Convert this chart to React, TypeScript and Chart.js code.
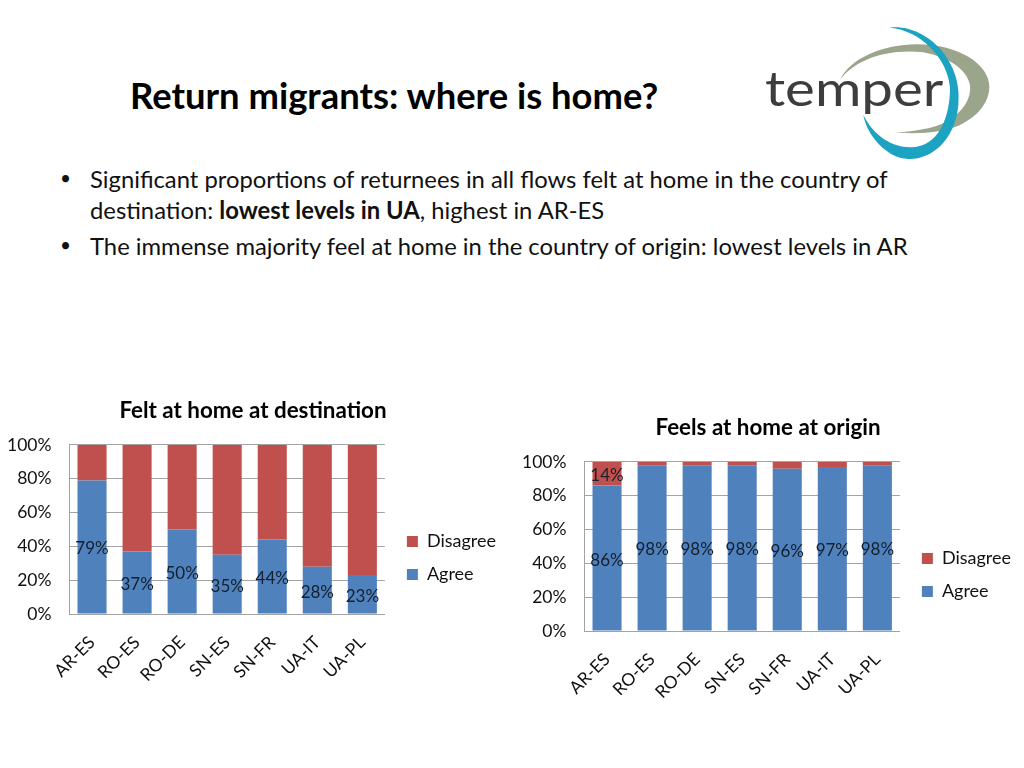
import React, { useEffect, useRef } from "react";
import { Chart, registerables } from "chart.js";

Chart.register(...registerables);

const categories = ["AR-ES", "RO-ES", "RO-DE", "SN-ES", "SN-FR", "UA-IT", "UA-PL"];
const yTicks = [0, 20, 40, 60, 80, 100];

const destinationAgree = [79, 37, 50, 35, 44, 28, 23];
const destinationDisagree = [21, 63, 50, 65, 56, 72, 77];
const destinationAgreeLabels = ["79%", "37%", "50%", "35%", "44%", "28%", "23%"];
const destinationDisagreeLabels = [null, null, null, null, null, null, null];

const originAgree = [86, 98, 98, 98, 96, 97, 98];
const originDisagree = [14, 2, 2, 2, 4, 3, 2];
const originAgreeLabels = ["86%", "98%", "98%", "98%", "96%", "97%", "98%"];
const originDisagreeLabels = ["14%", null, null, null, null, null, null];

const FONT = "Lato, 'Open Sans', sans-serif";
const TEXT = "#111111";
const AXIS = "#a3a3a3";

const segmentLabels = {
  id: "segmentLabels",
  afterDatasetsDraw(chart: any) {
    const { ctx } = chart;
    ctx.save();
    ctx.font = `17px ${FONT}`;
    ctx.fillStyle = "#14202e";
    ctx.textAlign = "center";
    ctx.textBaseline = "middle";
    chart.data.datasets.forEach((ds: any, i: number) => {
      chart.getDatasetMeta(i).data.forEach((bar: any, j: number) => {
        const label = ds.segmentLabels[j];
        if (label) ctx.fillText(label, bar.x, (bar.y + bar.base) / 2 + 2);
      });
    });
    ctx.restore();
  },
};

const placeBlocks = {
  id: "placeBlocks",
  afterLayout(chart: any) {
    const { legend, titleBlock } = chart;
    legend.left += 7;
    legend.right += 7;
    legend.top += 11;
    legend.bottom += 11;
    titleBlock.left += 3.5;
    titleBlock.right += 3.5;
  },
};

function makeChart(
  canvas: HTMLCanvasElement,
  title: string,
  agree: number[],
  disagree: number[],
  agreeLabels: (string | null)[],
  disagreeLabels: (string | null)[]
) {
  return new Chart(canvas, {
    type: "bar",
    plugins: [segmentLabels, placeBlocks],
    data: {
      labels: categories,
      datasets: [
        { label: "Agree", data: agree, backgroundColor: "#4F81BD", segmentLabels: agreeLabels } as any,
        { label: "Disagree", data: disagree, backgroundColor: "#C0504D", segmentLabels: disagreeLabels } as any,
      ],
    },
    options: {
      animation: false,
      responsive: false,
      devicePixelRatio: 1,
      layout: { padding: { right: 7 } },
      datasets: { bar: { categoryPercentage: 1, barPercentage: 0.645 } },
      plugins: {
        title: {
          display: true,
          text: title,
          color: "#000",
          font: { family: FONT, size: 22.4, weight: "bold" },
          padding: { top: 0, bottom: 21 },
        },
        legend: {
          position: "right",
          reverse: true,
          labels: {
            boxWidth: 11,
            boxHeight: 11,
            padding: 15,
            color: TEXT,
            font: { family: FONT, size: 18 },
          },
        },
        tooltip: { enabled: false },
      },
      scales: {
        x: {
          stacked: true,
          afterFit: (s: any) => { s.height = 83; },
          grid: { display: false },
          border: { color: AXIS },
          ticks: { color: TEXT, font: { family: FONT, size: 17.5 }, minRotation: 45, maxRotation: 45, padding: 10 },
        },
        y: {
          stacked: true,
          min: 0,
          max: 100,
          afterFit: (s: any) => { s.width = 69.5; },
          afterBuildTicks: (s: any) => { s.ticks = yTicks.map((value) => ({ value })); },
          grid: { color: AXIS, drawTicks: false },
          border: { color: AXIS },
          ticks: { color: TEXT, font: { family: FONT, size: 17.5 }, padding: 18, callback: (v: any) => `${v}%` },
        },
      },
    } as any,
  });
}

const abs = (left: number, top: number, extra: React.CSSProperties = {}): React.CSSProperties => ({
  position: "absolute",
  left,
  top,
  whiteSpace: "nowrap",
  fontFamily: FONT,
  ...extra,
});

export default function App() {
  const destRef = useRef<HTMLCanvasElement>(null);
  const origRef = useRef<HTMLCanvasElement>(null);

  useEffect(() => {
    const a = makeChart(destRef.current!, "Felt at home at destination", destinationAgree, destinationDisagree, destinationAgreeLabels, destinationDisagreeLabels);
    const b = makeChart(origRef.current!, "Feels at home at origin", originAgree, originDisagree, originAgreeLabels, originDisagreeLabels);
    return () => { a.destroy(); b.destroy(); };
  }, []);

  const bullet = { fontSize: 23.8, lineHeight: "26px", color: "#111" };
  const dot = { fontSize: 19, lineHeight: "26px", color: "#111" };

  return (
    <div style={{ position: "relative", width: 1024, height: 768, overflow: "hidden", background: "#fff" }}>
      <style>{"html,body{margin:0;padding:0;background:#fff}"}</style>

      <div style={abs(130, 73, { fontSize: 36.4, lineHeight: "44px", fontWeight: 700, color: "#000" })}>Return migrants: where is home?</div>

      <div style={abs(60, 165, dot)}>•</div>
      <div style={abs(90, 166, bullet)}>Significant proportions of returnees in all flows felt at home in the country of</div>
      <div style={abs(90, 197, bullet)}>destination: <b>lowest levels in UA</b>, highest in AR-ES</div>
      <div style={abs(60, 232, dot)}>•</div>
      <div style={abs(90, 233, bullet)}>The immense majority feel at home in the country of origin: lowest levels in AR</div>

      <svg style={{ position: "absolute", left: 750, top: 15 }} width={260} height={155} viewBox="0 0 780 465">
        <path d="M270,195 C300,130 400,88 500,88 C630,88 718,150 718,215 C718,280 650,335 570,348 C520,356 470,356 435,352 C490,350 550,340 590,320 C640,290 665,250 660,210 C650,160 590,125 520,112 C400,100 310,140 270,195 Z" fill="#9aa58c" />
        <text x={45} y={272} fontFamily={FONT} fontSize={145} fill="#3d3d40" textLength={535} lengthAdjust="spacingAndGlyphs">temper</text>
        <path d="M420,38 C520,25 640,130 625,270 C615,380 540,435 475,432 C410,430 350,360 340,300 C375,370 440,405 500,395 C570,385 600,300 600,220 C595,130 510,45 420,38 Z" fill="#1ba3c1" />
      </svg>

      <canvas ref={destRef} width={506} height={300} style={{ position: "absolute", left: 0, top: 397 }} />
      <canvas ref={origRef} width={506} height={300} style={{ position: "absolute", left: 515, top: 414 }} />
    </div>
  );
}
